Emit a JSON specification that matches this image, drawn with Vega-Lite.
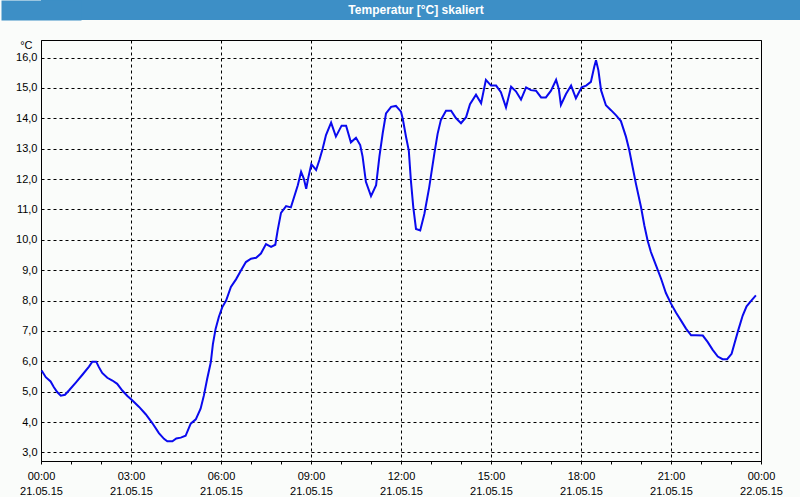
{
  "$schema": "https://vega.github.io/schema/vega-lite/v6.json",
  "padding": 0,
  "background": "#fafcfa",
  "spacing": 18,
  "config": {
    "font": "Liberation Sans",
    "axis": {"labelFont": "Liberation Sans", "titleFont": "Liberation Sans"}
  },
  "vconcat": [
    {
      "width": 760,
      "height": 20,
      "view": {"fill": "#3d8fc6", "stroke": null},
      "data": {"values": [{"title": "Temperatur [°C] skaliert"}]},
      "mark": {"type": "text", "color": "white", "fontSize": 12, "fontWeight": "bold", "dx": -5, "baseline": "middle", "align": "center"},
      "encoding": {
        "text": {"field": "title", "type": "nominal"},
        "y": {
          "field": "title",
          "type": "nominal",
          "axis": {"labels": false, "ticks": false, "title": null, "grid": false, "domain": true, "domainColor": "#3d8fc6", "domainWidth": 80}
        }
      }
    },
    {
      "width": 720,
      "height": 421,
      "view": {"stroke": "black", "strokeWidth": 1},
      "data": {"values": [
        {"h": 0.02, "v": 5.70}, {"h": 0.16, "v": 5.48}, {"h": 0.32, "v": 5.34}, {"h": 0.43, "v": 5.15},
        {"h": 0.54, "v": 4.99}, {"h": 0.66, "v": 4.87}, {"h": 0.80, "v": 4.90}, {"h": 0.93, "v": 5.04},
        {"h": 1.16, "v": 5.30}, {"h": 1.38, "v": 5.56}, {"h": 1.60, "v": 5.83}, {"h": 1.71, "v": 5.99},
        {"h": 1.84, "v": 5.99}, {"h": 1.93, "v": 5.81}, {"h": 2.04, "v": 5.62}, {"h": 2.21, "v": 5.46},
        {"h": 2.38, "v": 5.37}, {"h": 2.54, "v": 5.26}, {"h": 2.71, "v": 5.04}, {"h": 2.88, "v": 4.86},
        {"h": 3.04, "v": 4.72}, {"h": 3.27, "v": 4.50}, {"h": 3.49, "v": 4.26}, {"h": 3.71, "v": 3.97},
        {"h": 3.93, "v": 3.64}, {"h": 4.10, "v": 3.45}, {"h": 4.21, "v": 3.37}, {"h": 4.38, "v": 3.37},
        {"h": 4.51, "v": 3.46}, {"h": 4.66, "v": 3.49}, {"h": 4.82, "v": 3.55}, {"h": 4.99, "v": 3.95},
        {"h": 5.16, "v": 4.09}, {"h": 5.32, "v": 4.44}, {"h": 5.43, "v": 4.88}, {"h": 5.54, "v": 5.43},
        {"h": 5.66, "v": 5.97}, {"h": 5.73, "v": 6.57}, {"h": 5.82, "v": 7.07}, {"h": 5.93, "v": 7.47},
        {"h": 6.04, "v": 7.78}, {"h": 6.17, "v": 8.00}, {"h": 6.33, "v": 8.45}, {"h": 6.50, "v": 8.70},
        {"h": 6.67, "v": 9.00}, {"h": 6.83, "v": 9.27}, {"h": 7.00, "v": 9.38}, {"h": 7.17, "v": 9.41},
        {"h": 7.33, "v": 9.55}, {"h": 7.50, "v": 9.86}, {"h": 7.67, "v": 9.77}, {"h": 7.81, "v": 9.84},
        {"h": 7.89, "v": 10.32}, {"h": 8.00, "v": 10.89}, {"h": 8.17, "v": 11.11}, {"h": 8.33, "v": 11.07},
        {"h": 8.44, "v": 11.42}, {"h": 8.56, "v": 11.80}, {"h": 8.67, "v": 12.24}, {"h": 8.76, "v": 12.02},
        {"h": 8.84, "v": 11.68}, {"h": 8.91, "v": 12.05}, {"h": 9.01, "v": 12.49}, {"h": 9.17, "v": 12.30},
        {"h": 9.28, "v": 12.63}, {"h": 9.39, "v": 13.01}, {"h": 9.50, "v": 13.45}, {"h": 9.67, "v": 13.86},
        {"h": 9.83, "v": 13.40}, {"h": 10.02, "v": 13.76}, {"h": 10.17, "v": 13.76}, {"h": 10.33, "v": 13.21},
        {"h": 10.50, "v": 13.36}, {"h": 10.64, "v": 13.12}, {"h": 10.72, "v": 12.74}, {"h": 10.83, "v": 11.91},
        {"h": 11.00, "v": 11.44}, {"h": 11.17, "v": 11.80}, {"h": 11.28, "v": 12.74}, {"h": 11.39, "v": 13.51},
        {"h": 11.50, "v": 14.16}, {"h": 11.67, "v": 14.38}, {"h": 11.83, "v": 14.41}, {"h": 12.00, "v": 14.22},
        {"h": 12.06, "v": 13.98}, {"h": 12.17, "v": 13.38}, {"h": 12.26, "v": 12.94}, {"h": 12.33, "v": 11.95},
        {"h": 12.41, "v": 11.07}, {"h": 12.50, "v": 10.36}, {"h": 12.64, "v": 10.31}, {"h": 12.78, "v": 10.86},
        {"h": 12.94, "v": 11.73}, {"h": 13.11, "v": 12.83}, {"h": 13.22, "v": 13.49}, {"h": 13.33, "v": 13.95},
        {"h": 13.50, "v": 14.25}, {"h": 13.67, "v": 14.25}, {"h": 13.83, "v": 14.01}, {"h": 14.00, "v": 13.84},
        {"h": 14.17, "v": 14.04}, {"h": 14.30, "v": 14.47}, {"h": 14.50, "v": 14.78}, {"h": 14.67, "v": 14.50},
        {"h": 14.83, "v": 15.27}, {"h": 15.00, "v": 15.08}, {"h": 15.17, "v": 15.08}, {"h": 15.33, "v": 14.86},
        {"h": 15.50, "v": 14.36}, {"h": 15.67, "v": 15.04}, {"h": 15.83, "v": 14.89}, {"h": 16.00, "v": 14.62},
        {"h": 16.17, "v": 15.02}, {"h": 16.33, "v": 14.93}, {"h": 16.50, "v": 14.91}, {"h": 16.67, "v": 14.69},
        {"h": 16.83, "v": 14.69}, {"h": 17.00, "v": 14.91}, {"h": 17.17, "v": 15.27}, {"h": 17.26, "v": 14.97},
        {"h": 17.33, "v": 14.44}, {"h": 17.50, "v": 14.80}, {"h": 17.67, "v": 15.08}, {"h": 17.83, "v": 14.66},
        {"h": 18.02, "v": 15.02}, {"h": 18.17, "v": 15.08}, {"h": 18.33, "v": 15.20}, {"h": 18.44, "v": 15.69},
        {"h": 18.50, "v": 15.91}, {"h": 18.58, "v": 15.58}, {"h": 18.67, "v": 14.92}, {"h": 18.83, "v": 14.43},
        {"h": 19.00, "v": 14.27}, {"h": 19.17, "v": 14.10}, {"h": 19.33, "v": 13.91}, {"h": 19.50, "v": 13.39},
        {"h": 19.61, "v": 12.95}, {"h": 19.72, "v": 12.40}, {"h": 19.83, "v": 11.85}, {"h": 20.00, "v": 11.08},
        {"h": 20.11, "v": 10.48}, {"h": 20.22, "v": 9.98}, {"h": 20.33, "v": 9.60}, {"h": 20.50, "v": 9.16},
        {"h": 20.67, "v": 8.72}, {"h": 20.83, "v": 8.25}, {"h": 21.00, "v": 7.90}, {"h": 21.17, "v": 7.60},
        {"h": 21.33, "v": 7.35}, {"h": 21.50, "v": 7.08}, {"h": 21.67, "v": 6.86}, {"h": 21.83, "v": 6.86},
        {"h": 22.06, "v": 6.85}, {"h": 22.22, "v": 6.64}, {"h": 22.39, "v": 6.38}, {"h": 22.56, "v": 6.16},
        {"h": 22.72, "v": 6.07}, {"h": 22.87, "v": 6.07}, {"h": 23.02, "v": 6.25}, {"h": 23.13, "v": 6.64},
        {"h": 23.24, "v": 7.02}, {"h": 23.39, "v": 7.51}, {"h": 23.52, "v": 7.81}, {"h": 23.67, "v": 7.99},
        {"h": 23.83, "v": 8.17}
      ]},
      "mark": {"type": "line", "color": "#0a0aee", "strokeWidth": 2},
      "encoding": {
        "x": {
          "field": "h",
          "type": "quantitative",
          "scale": {"domain": [0, 24], "nice": false, "zero": false},
          "axis": {
            "title": null,
            "domain": false,
            "values": [0, 1, 2, 3, 4, 5, 6, 7, 8, 9, 10, 11, 12, 13, 14, 15, 16, 17, 18, 19, 20, 21, 22, 23, 24],
            "tickSize": 3,
            "tickColor": "black",
            "labelExpr": "datum.value % 3 == 0 ? [format(datum.value % 24, '02d') + ':00', datum.value == 24 ? '22.05.15' : '21.05.15'] : ''",
            "labelOverlap": false,
            "labelFlush": false,
            "labelBound": false,
            "labelAlign": "center",
            "labelPadding": 6,
            "labelLineHeight": 15,
            "labelFontSize": 11,
            "labelColor": "black",
            "gridColor": "black",
            "gridDash": [3, 3],
            "gridOpacity": {"condition": {"test": "datum.value % 3 == 0", "value": 1}, "value": 0}
          }
        },
        "y": {
          "field": "v",
          "type": "quantitative",
          "scale": {"domain": [2.72, 16.58], "nice": false, "zero": false},
          "axis": {
            "title": "°C",
            "titleAngle": 0,
            "titleAlign": "right",
            "titleBaseline": "middle",
            "titleX": -9,
            "titleY": 5,
            "titleFontSize": 11,
            "titleFontWeight": "normal",
            "titleColor": "black",
            "values": [3, 4, 5, 6, 7, 8, 9, 10, 11, 12, 13, 14, 15, 16],
            "labelExpr": "replace(format(datum.value, '.1f'), '.', ',')",
            "domain": false,
            "ticks": true,
            "tickSize": 40,
            "tickColor": "transparent",
            "labelPadding": -36,
            "labelFontSize": 11,
            "labelColor": "black",
            "gridColor": "black",
            "gridDash": [3, 3],
            "gridOpacity": 1
          }
        }
      }
    }
  ]
}
